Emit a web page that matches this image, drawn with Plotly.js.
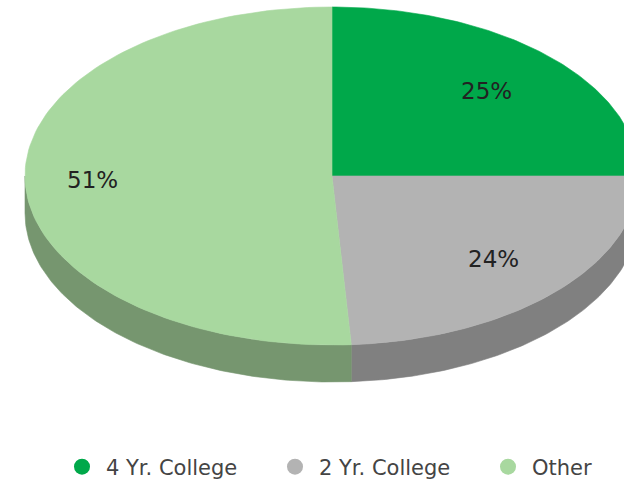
<!DOCTYPE html>
<html><head><meta charset="utf-8">
<script src="https://cdn.plot.ly/plotly-3.0.1.min.js"></script>
<style>html,body{margin:0;padding:0;background:#fff}#chart{width:624px;height:481px}</style>
</head><body><div id="chart"></div>
<script>
const categories = ["4 Yr. College", "2 Yr. College", "Other"];
const values = [25, 24, 51];
const topColors = ["#00a84a", "#b3b3b3", "#a8d89f"];
const sideColors = ["#007a35", "#808080", "#76966f"];

// pie geometry (pixels, drawn on a pixel-matched cartesian frame)
const CX = 332, CY = 176, RX = 307, RY = 169, DEPTH = 37;
const LABEL_R = [0.71, 0.72, 0.78];
const LEGEND_X = [58, 271, 484];
const N = 120;

function pt(t, dy) { return [CX + RX * Math.sin(t), CY - RY * Math.cos(t) + (dy || 0)]; }

const total = values.reduce((a, b) => a + b, 0);
const sides = [], tops = [], annotations = [];
let start = 0;
values.forEach((v, i) => {
  const a = start / total * 2 * Math.PI;
  const b = (start + v) / total * 2 * Math.PI;
  start += v;
  const tx = [CX], ty = [CY];
  for (let k = 0; k <= N; k++) { const p = pt(a + (b - a) * k / N); tx.push(p[0]); ty.push(p[1]); }
  tx.push(CX); ty.push(CY);
  tops.push({type: 'scatter', mode: 'lines', x: tx, y: ty, fill: 'toself', fillcolor: topColors[i],
    line: {color: topColors[i], width: 0.6}, showlegend: false, hoverinfo: 'skip'});
  const s0 = Math.max(a, Math.PI / 2), s1 = Math.min(b, 3 * Math.PI / 2);
  if (s1 > s0) {
    const sx = [], sy = [];
    for (let k = 0; k <= N; k++) { const p = pt(s0 + (s1 - s0) * k / N); sx.push(p[0]); sy.push(p[1]); }
    for (let k = N; k >= 0; k--) { const p = pt(s0 + (s1 - s0) * k / N, DEPTH); sx.push(p[0]); sy.push(p[1]); }
    sx.push(sx[0]); sy.push(sy[0]);
    sides.push({type: 'scatter', mode: 'lines', x: sx, y: sy, fill: 'toself', fillcolor: sideColors[i],
      line: {color: sideColors[i], width: 0.6}, showlegend: false, hoverinfo: 'skip'});
  }
  const m = (a + b) / 2;
  annotations.push({x: CX + RX * LABEL_R[i] * Math.sin(m), y: CY - RY * LABEL_R[i] * Math.cos(m),
    xref: 'x', yref: 'y', text: Math.round(v / total * 100) + '%', showarrow: false,
    font: {family: 'DejaVu Sans', size: 23, color: '#222'}});
});

const legendNames = ['legend', 'legend2', 'legend3'];
const legendTraces = categories.map((c, i) => ({type: 'scatter', mode: 'markers', x: [null], y: [null],
  name: c, legend: legendNames[i], marker: {symbol: 'circle', size: 18, color: topColors[i]}, hoverinfo: 'skip'}));

const layout = {
  width: 624, height: 481,
  margin: {l: 0, r: 0, t: 0, b: 0, autoexpand: false},
  paper_bgcolor: '#fff', plot_bgcolor: '#fff',
  xaxis: {range: [0, 624], visible: false, fixedrange: true},
  yaxis: {range: [481, 0], visible: false, fixedrange: true},
  showlegend: true,
  annotations: annotations,
  hovermode: false
};
legendNames.forEach((ln, i) => {
  layout[ln] = {orientation: 'h', x: LEGEND_X[i] / 624, xanchor: 'left', y: 1 - 467 / 481, yanchor: 'middle',
    itemwidth: 38, font: {family: 'DejaVu Sans', size: 21, color: '#444'}, bgcolor: 'rgba(0,0,0,0)'};
});
Plotly.newPlot('chart', [...sides, ...tops, ...legendTraces], layout, {displayModeBar: false, staticPlot: true});
</script></body></html>
